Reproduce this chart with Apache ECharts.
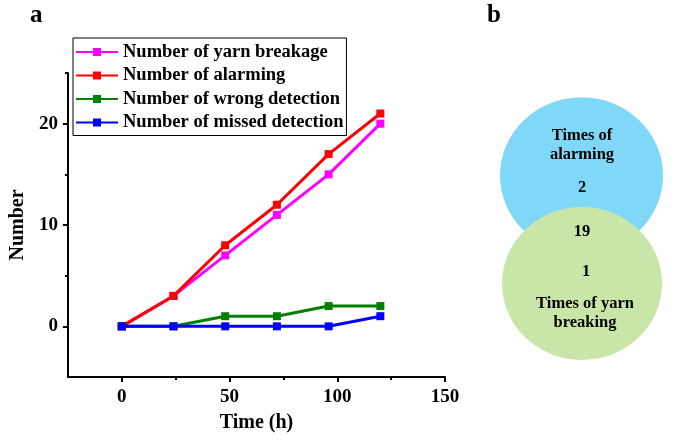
<!DOCTYPE html>
<html>
<head>
<meta charset="utf-8">
<script src="https://cdn.jsdelivr.net/npm/echarts@6/dist/echarts.min.js"></script>
<style>
  html, body { margin: 0; padding: 0; background: #fff; }
  #chart { width: 678px; height: 445px; }
</style>
</head>
<body>
<div id="chart"></div>
<script>
// Time in hours at which each count was taken
const hours = [0, 24, 48, 72, 96, 120];

// Cumulative counts per detection outcome
const yarnBreakage = [0, 3, 7, 11, 15, 20];
const alarming = [0, 3, 8, 12, 17, 21];
const wrongDetection = [0, 0, 1, 1, 2, 2];
const missedDetection = [0, 0, 0, 0, 0, 1];

const seriesNames = [
  'Number of yarn breakage',
  'Number of alarming',
  'Number of wrong detection',
  'Number of missed detection'
];
const seriesColors = ['#ff00ff', '#ff0000', '#008000', '#0000ff'];
const seriesValues = [yarnBreakage, alarming, wrongDetection, missedDetection];

// Axis ticks
const xMajorTicks = [0, 50, 100, 150];
const xMinorTicks = [25, 75, 125];
const yMajorTicks = [0, 10, 20];
const yMinorTicks = [5, 15, 25];

// Venn diagram counts: alarm only, both, yarn break only
const vennAlarmOnly = 2;
const vennBoth = 19;
const vennBreakOnly = 1;
const vennLabels = ['Times of\nalarming', 'Times of yarn\nbreaking'];

const FONT = '"Liberation Serif", "Times New Roman", serif';

const chart = echarts.init(document.getElementById('chart'), null, { renderer: 'canvas' });

const axisText = { fontFamily: FONT, fontWeight: 'bold', color: '#000', fontSize: 19 };

const series = seriesNames.map((name, i) => ({
  name,
  type: 'line',
  xAxisIndex: 0,
  yAxisIndex: 0,
  data: hours.map((h, k) => [h, seriesValues[i][k]]),
  symbol: 'rect',
  symbolSize: 8,
  showSymbol: true,
  color: seriesColors[i],
  lineStyle: { width: 3, color: seriesColors[i] },
  itemStyle: { color: seriesColors[i] },
  z: 2 + i
}));

const option = {
  animation: false,
  backgroundColor: '#fff',
  grid: { left: 67, right: 233, top: 73, bottom: 68, containLabel: false },
  legend: {
    orient: 'vertical',
    left: 73,
    top: 38,
    data: seriesNames,
    borderColor: '#000',
    borderWidth: 1,
    padding: [4, 3, 3, 2],
    itemWidth: 42,
    itemHeight: 10,
    itemGap: 3.5,
    textStyle: { fontFamily: FONT, fontWeight: 'bold', fontSize: 18.5, color: '#000', lineHeight: 20 },
    backgroundColor: '#fff'
  },
  xAxis: [
    {
      type: 'value', min: -25, max: 150,
      name: 'Time (h)', nameLocation: 'middle', nameGap: 36,
      nameTextStyle: Object.assign({}, axisText, { fontSize: 20, verticalAlign: 'top' }),
      axisLine: { show: true, onZero: false, lineStyle: { color: '#000', width: 2 } },
      axisTick: { show: true, inside: false, length: 5, lineStyle: { color: '#000', width: 2 }, customValues: xMajorTicks },
      axisLabel: Object.assign({ margin: 11, customValues: xMajorTicks }, axisText),
      splitLine: { show: false }
    },
    {
      type: 'value', min: -25, max: 150, position: 'bottom',
      axisLine: { show: false, onZero: false },
      axisTick: { show: true, inside: false, length: 3, lineStyle: { color: '#000', width: 2 }, customValues: xMinorTicks },
      axisLabel: { show: false },
      splitLine: { show: false }
    }
  ],
  yAxis: [
    {
      type: 'value', min: -5, max: 25,
      name: 'Number', nameLocation: 'middle', nameGap: 34, nameRotate: 90,
      nameTextStyle: Object.assign({}, axisText, { fontSize: 20 }),
      axisLine: { show: true, onZero: false, lineStyle: { color: '#000', width: 2 } },
      axisTick: { show: true, inside: false, length: 5, lineStyle: { color: '#000', width: 2 }, customValues: yMajorTicks },
      axisLabel: Object.assign({ margin: 10, customValues: yMajorTicks }, axisText),
      splitLine: { show: false }
    },
    {
      type: 'value', min: -5, max: 25, position: 'left',
      axisLine: { show: false, onZero: false },
      axisTick: { show: true, inside: false, length: 3, lineStyle: { color: '#000', width: 2 }, customValues: yMinorTicks },
      axisLabel: { show: false },
      splitLine: { show: false }
    }
  ],
  series,
  graphic: [
    { type: 'text', left: 30, top: 3, style: { text: 'a', font: 'bold 25px ' + FONT, fill: '#000' } },
    { type: 'text', left: 487, top: 3, style: { text: 'b', font: 'bold 25px ' + FONT, fill: '#000' } },
    // Venn circles: alarming (blue) behind yarn breaking (green)
    { type: 'circle', x: 581.5, y: 175.5, scaleY: 0.96, shape: { cx: 0, cy: 0, r: 81.5 }, style: { fill: '#80d8f8' }, z: 1 },
    { type: 'circle', x: 582, y: 283.5, scaleY: 0.956, shape: { cx: 0, cy: 0, r: 80 }, style: { fill: '#c9e6a9' }, z: 2 },
    { type: 'text', x: 582, y: 145, z: 3, style: { text: vennLabels[0], font: 'bold 16.5px ' + FONT, fill: '#000', align: 'center', verticalAlign: 'middle', lineHeight: 19 } },
    { type: 'text', x: 582, y: 188, z: 3, style: { text: String(vennAlarmOnly), font: 'bold 16.5px ' + FONT, fill: '#000', align: 'center', verticalAlign: 'middle' } },
    { type: 'text', x: 582, y: 232, z: 3, style: { text: String(vennBoth), font: 'bold 16.5px ' + FONT, fill: '#000', align: 'center', verticalAlign: 'middle' } },
    { type: 'text', x: 586, y: 272, z: 3, style: { text: String(vennBreakOnly), font: 'bold 16.5px ' + FONT, fill: '#000', align: 'center', verticalAlign: 'middle' } },
    { type: 'text', x: 585, y: 313.5, z: 3, style: { text: vennLabels[1], font: 'bold 16.5px ' + FONT, fill: '#000', align: 'center', verticalAlign: 'middle', lineHeight: 19 } }
  ]
};

chart.setOption(option);
</script>
</body>
</html>
